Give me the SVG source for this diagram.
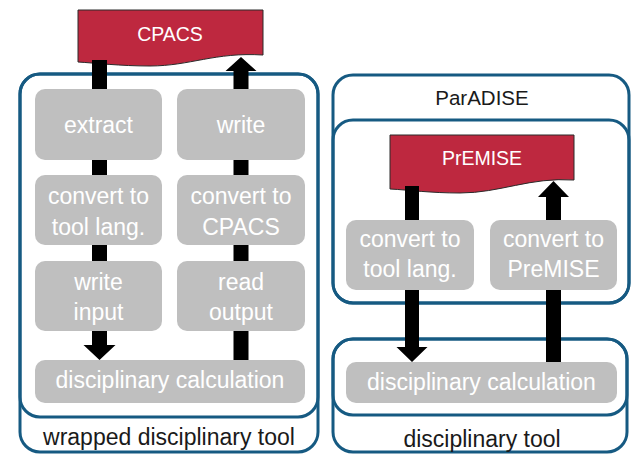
<svg xmlns="http://www.w3.org/2000/svg" width="632" height="457" viewBox="0 0 632 457">
<style>
.frame{fill:none;stroke:#165a82;stroke-width:3}
.box{fill:#bfbfbf}
.bt{font-family:"Liberation Sans",Arial,sans-serif;font-size:23px;fill:#ffffff;text-anchor:middle}
.lbl{font-family:"Liberation Sans",Arial,sans-serif;font-size:23px;fill:#1a1a1a;text-anchor:middle}
.doc{fill:#be283f;stroke:#2a2a2a;stroke-width:1}
.dt{font-family:"Liberation Sans",Arial,sans-serif;font-size:19.5px;fill:#ffffff;text-anchor:middle}
.ar{fill:#000000}
</style>
<rect width="632" height="457" fill="#ffffff"/>
<g id="wrapped-tool">
<rect class="frame" x="20" y="74" width="298" height="378" rx="20"/>
<rect class="frame" x="20" y="74" width="298" height="343" rx="20"/>
<text class="lbl" x="169" y="445">wrapped disciplinary tool</text>
</g>
<g id="paradise">
<rect class="frame" x="333" y="75" width="296" height="228" rx="20"/>
<rect class="frame" x="333" y="120" width="296" height="183" rx="20"/>
<text class="lbl" x="482" y="105" style="font-size:20.5px">ParADISE</text>
</g>
<g id="disciplinary-tool">
<rect class="frame" x="333" y="339" width="294" height="113" rx="20"/>
<rect class="frame" x="333" y="339" width="294" height="76" rx="20"/>
<text class="lbl" x="482" y="447">disciplinary tool</text>
</g>
<g id="cpacs">
<path class="doc" d="M78,10 H263 V55 C215,52 190,66 150,66 C120,66 95,63 78,62 Z"/>
<text class="dt" x="170" y="41">CPACS</text>
</g>
<g id="premise">
<path class="doc" d="M390,135 H574 V180 C530,177 500,193 460,193 C430,193 410,190 390,189 Z"/>
<text class="dt" x="482" y="165">PrEMISE</text>
</g>
<g id="extract">
<rect class="box" x="35" y="89" width="127" height="71" rx="10"/>
<text class="bt" x="98.5" y="133">extract</text>
</g>
<g id="write">
<rect class="box" x="177" y="89" width="128" height="71" rx="10"/>
<text class="bt" x="241" y="133">write</text>
</g>
<g id="convert-tool-left">
<rect class="box" x="35" y="175" width="127" height="70" rx="10"/>
<text class="bt" x="98.5" y="204">convert to</text>
<text class="bt" x="98.5" y="235">tool lang.</text>
</g>
<g id="convert-cpacs">
<rect class="box" x="177" y="175" width="128" height="70" rx="10"/>
<text class="bt" x="241" y="204">convert to</text>
<text class="bt" x="241" y="235">CPACS</text>
</g>
<g id="write-input">
<rect class="box" x="35" y="261" width="127" height="70" rx="10"/>
<text class="bt" x="98.5" y="290">write</text>
<text class="bt" x="98.5" y="320">input</text>
</g>
<g id="read-output">
<rect class="box" x="177" y="261" width="128" height="70" rx="10"/>
<text class="bt" x="241" y="290">read</text>
<text class="bt" x="241" y="320">output</text>
</g>
<g id="calc-left">
<rect class="box" x="35" y="360" width="270" height="43" rx="10"/>
<text class="bt" x="170" y="388">disciplinary calculation</text>
</g>
<g id="convert-tool-right">
<rect class="box" x="346" y="220" width="128" height="70" rx="10"/>
<text class="bt" x="410" y="247">convert to</text>
<text class="bt" x="410" y="277">tool lang.</text>
</g>
<g id="convert-premise">
<rect class="box" x="490" y="220" width="127" height="70" rx="10"/>
<text class="bt" x="553.5" y="247">convert to</text>
<text class="bt" x="553.5" y="277">PreMISE</text>
</g>
<g id="calc-right">
<rect class="box" x="346" y="362" width="271" height="41" rx="10"/>
<text class="bt" x="481.5" y="390">disciplinary calculation</text>
</g>
<g id="connectors">
<rect class="ar" x="92" y="60" width="15" height="29"/>
<rect class="ar" x="92" y="160" width="15" height="15"/>
<rect class="ar" x="92" y="245" width="15" height="16"/>
<polygon class="ar" points="92,331 107,331 107,345 115.5,345 99.5,360 83.5,345 92,345"/>
<rect class="ar" x="233.5" y="331" width="15" height="29"/>
<rect class="ar" x="233.5" y="245" width="15" height="16"/>
<rect class="ar" x="233.5" y="160" width="15" height="15"/>
<polygon class="ar" points="233.5,89 248.5,89 248.5,71 256.5,71 241,57 225.5,71 233.5,71"/>
<rect class="ar" x="405" y="186" width="14" height="34"/>
<polygon class="ar" points="405,290 419,290 419,347 427.5,347 412,362 396.5,347 405,347"/>
<polygon class="ar" points="546,220 561,220 561,197 569,197 553.5,181 538,197 546,197"/>
<rect class="ar" x="546" y="290" width="15" height="72"/>
</g>
</svg>
